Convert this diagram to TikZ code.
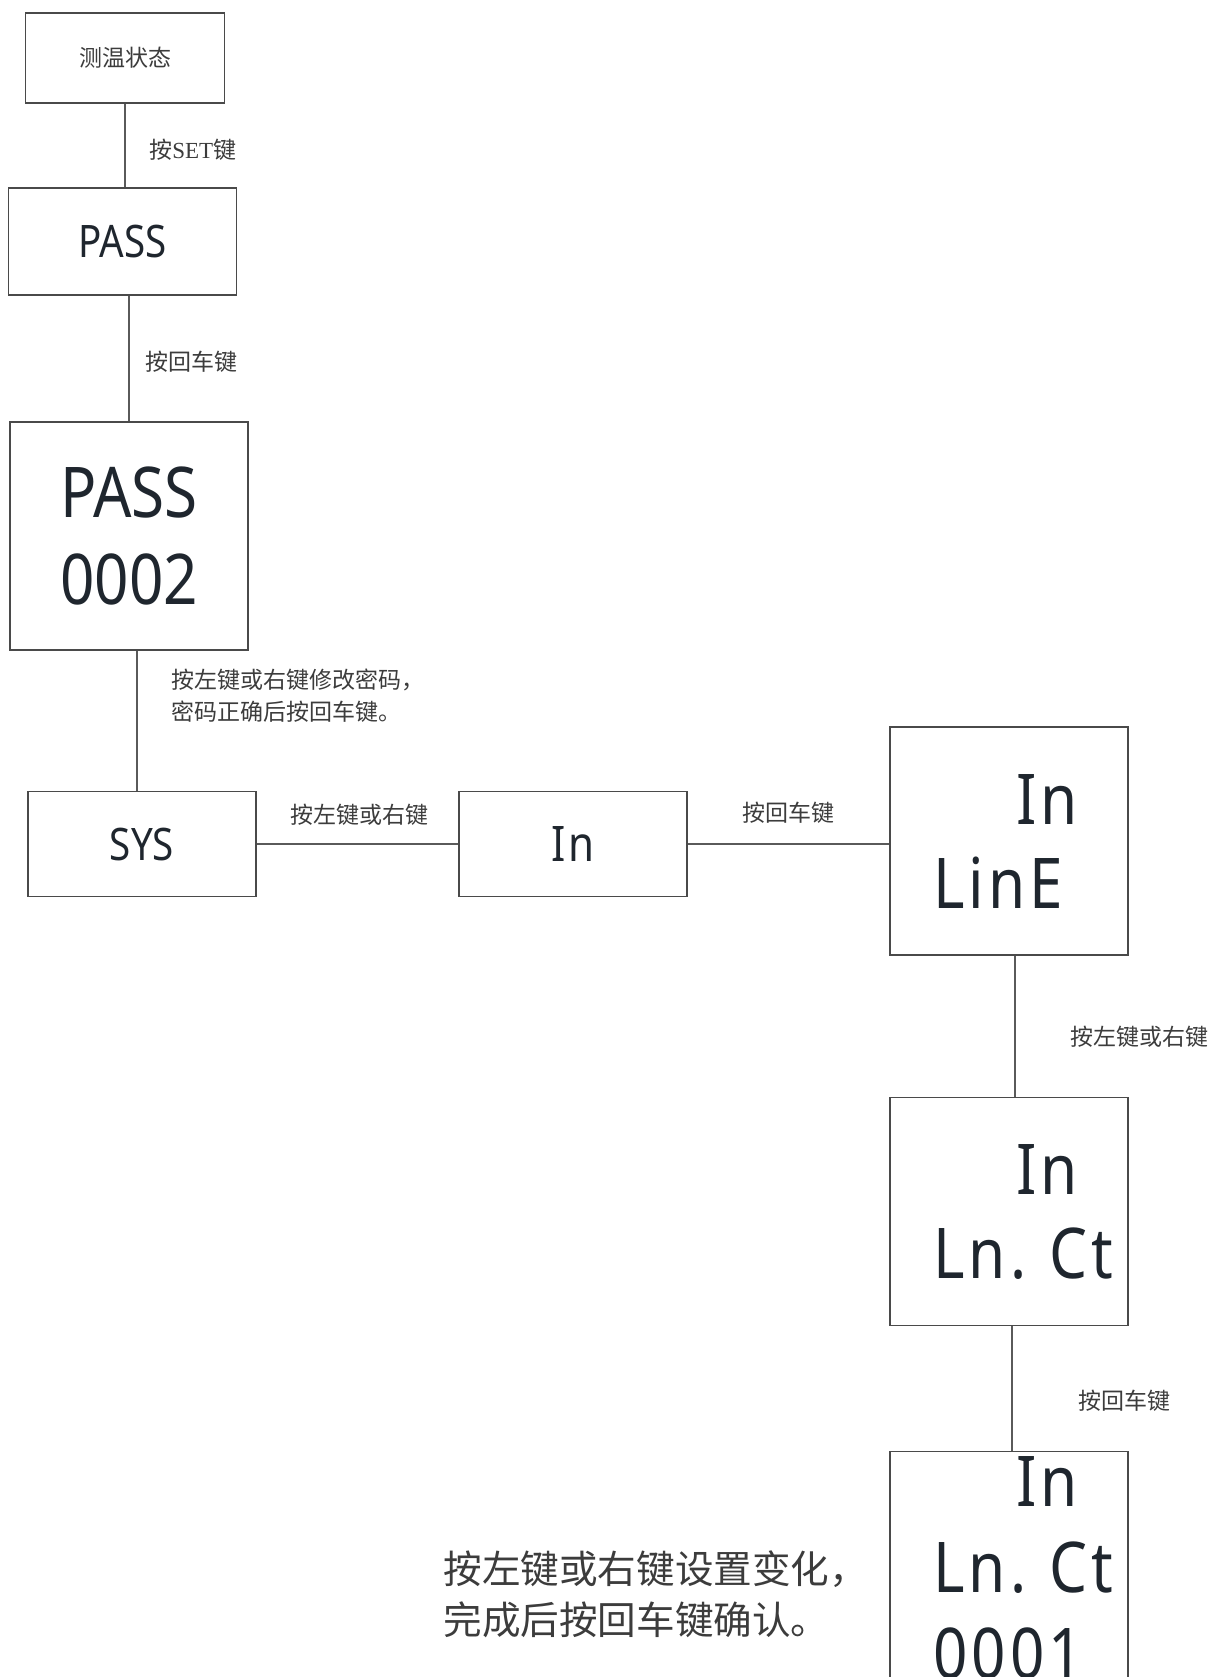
\documentclass[tikz,border=0pt]{standalone}
\usepackage{fontspec}
\setmainfont{Liberation Serif}
\newfontfamily\cjk{Noto Sans CJK SC}
\newfontfamily\disp[FakeStretch=0.86]{Noto Sans}
\newfontfamily\dispw[FakeStretch=0.86,LetterSpace=6]{Noto Sans}
\usepackage{xcolor}
\definecolor{Ink}  {HTML}{1F262E}
\definecolor{Edge} {HTML}{4A4A4A}
\definecolor{Wire} {HTML}{5A5A5A}
\definecolor{Note} {HTML}{3C3C3C}
\tikzset{
  box/.style args={#1/#2}{
    rectangle, draw=Edge, line width=0.6pt,
    minimum width=#1, minimum height=#2,
    inner sep=0pt, text=Ink, align=center,
  },
  wbox/.style={
    rectangle, draw=Edge, line width=0.6pt,
    minimum width=119pt, minimum height=114pt,
    text width=76pt, inner xsep=21.5pt, inner ysep=0pt,
    text=Ink, align=left,
    font=\dispw\fontsize{35}{42}\selectfont,
  },
  wire/.style={draw=Wire, line width=0.6pt},
  lbl/.style={
    anchor=west, inner sep=0pt, align=left, text=Note,
    font=\cjk\fontsize{11.5}{16}\selectfont,
  },
}
\begin{document}
\begin{tikzpicture}[x=0.5pt,y=-0.5pt]
    \useasboundingbox (0,0) rectangle (1213,1677);
    \clip (0,0) rectangle (1213,1677);

    \node[box=99.5pt/45pt,text=Note,font=\cjk\fontsize{11.5}{14}\selectfont] (temp) at (125,58) {测温状态};
    \node[box=114pt/53.5pt,font=\disp\fontsize{22.4}{26}\selectfont] (pass) at (122.5,241.5) {PASS};
    \node[box=119pt/114pt,font=\disp\fontsize{35}{43.5}\selectfont] (pwd) at (129,536) {PASS\\0002};
    \node[box=114pt/52.5pt,font=\disp\fontsize{22.4}{26}\selectfont] (sys) at (142,844) {SYS};
    \node[box=114pt/52.5pt,font=\dispw\fontsize{24.5}{28}\selectfont] (in) at (573,844) {In};

    \node[wbox] (line) at (1009,841) {\hspace*{41.5pt}In\\LinE};
    \node[wbox] (lnct) at (1009,1211.5) {\hspace*{41.5pt}In\\Ln.~Ct};
    \node[wbox,anchor=north,inner ysep=2.5pt,font=\dispw\fontsize{35}{43}\selectfont] (lnval) at (1009,1450.5) {\hspace*{41.5pt}In\\Ln.~Ct\\0001};

    \draw[wire](temp.south)--(temp.south |- pass.north);
    \draw[wire](pass.south -| pwd.north)--(pwd.north);
    \draw[wire]([xshift=4pt]pwd.south)--([xshift=4pt]pwd.south |- sys.north);
    \draw[wire](sys)--(in);
    \draw[wire](in.east)--(in.east -| line.west);
    \draw[wire]([xshift=3pt]line.south)--([xshift=3pt]line.south |- lnct.north);
    \draw[wire]([xshift=1.5pt]lnct.south)--([xshift=1.5pt]lnct.south |- lnval.north);

    \node[lbl] (k1) at (149,150) {按{\rmfamily SET}键};
    \node[lbl] (k2) at (145,362) {按回车键};
    \node[lbl] (k3) at (171,696) {按左键或右键修改密码，\\密码正确后按回车键。};
    \node[lbl] (k4) at (290,815) {按左键或右键};
    \node[lbl] (k5) at (742,813) {按回车键};
    \node[lbl] (k6) at (1070,1037) {按左键或右键};
    \node[lbl] (k7) at (1078,1401) {按回车键};
    \node[lbl,font=\cjk\fontsize{19.3}{25.5}\selectfont] (k8) at (443,1594) {按左键或右键设置变化，\\完成后按回车键确认。};
  \end{tikzpicture}
\end{document}
